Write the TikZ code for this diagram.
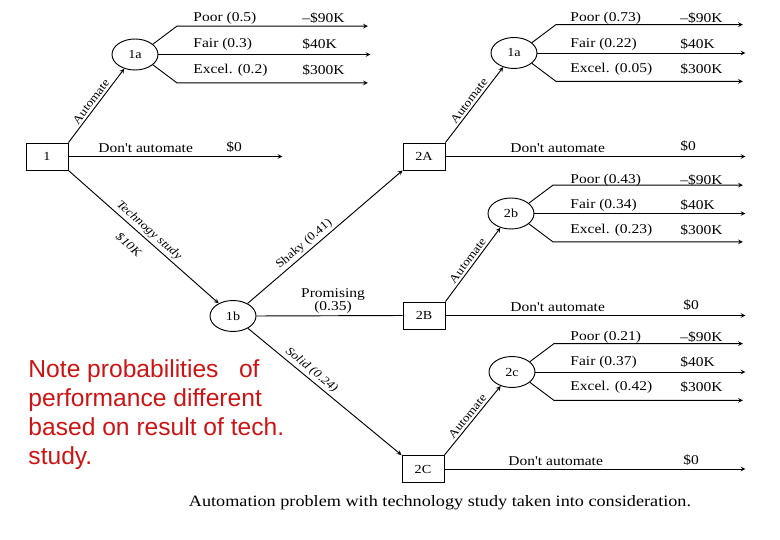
\documentclass[tikz,border=0pt]{standalone}
\usepackage{fontspec}
\setmainfont{Liberation Serif}
\newfontfamily\scanfont[FakeStretch=1.15]{Liberation Serif}
\newfontfamily\notefont{Liberation Sans}
\usetikzlibrary{shapes.geometric}
\definecolor{notered}{RGB}{205,20,20}

\begin{document}
\begin{tikzpicture}[x=0.03cm, y=-0.03cm, >=stealth, line width=0.8pt,
  decision/.style={draw, rectangle, minimum width=1.26cm, minimum height=0.81cm, inner sep=0pt, font=\scanfont\fontsize{10.5}{12}\selectfont},
  chance/.style={draw, ellipse, minimum width=1.38cm, minimum height=0.93cm, inner sep=0pt, font=\scanfont\fontsize{10.5}{12}\selectfont},
  lbl/.style={anchor=west, inner sep=0pt, font=\scanfont\fontsize{11.5}{13}\selectfont},
  edgelbl/.style={sloped, inner sep=2pt, font=\scanfont\fontsize{10}{11}\selectfont},
  studylbl/.style={sloped, inner sep=2pt, font=\scanfont\itshape\fontsize{10}{11}\selectfont}]
\useasboundingbox (0,0) rectangle (780,540);

% Decision boxes and chance circles
\node[decision] (d1) at (47,156.5) {1};
\node[chance] (c1a) at (135,54.5) {1a};
\node[chance] (c1b) at (233,316) {1b};
\node[decision] (d2A) at (424,156.5) {2A};
\node[decision] (d2B) at (424,315.5) {2B};
\node[decision] (d2C) at (423,469) {2C};
\node[chance] (c2a) at (514,53) {1a};
\node[chance] (c2b) at (511,213.5) {2b};
\node[chance] (c2c) at (512,372) {2c};

% Decision 1
\draw[->] (d1.north east) -- (c1a) node[midway, above, edgelbl] {Automate};
\draw[->] (d1.east) -- ++(214,0);
\draw[->] (d1.south east) -- (c1b)
  node[pos=0.5, above, studylbl] {Technogy study}
  node[pos=0.47, below=7pt, studylbl] {\$10K};
\node[lbl] at (98,148) {Don't automate};
\node[lbl] at (226,147) {\$0};

% Chance 1a (no study)
\draw[->] (c1a.30) -- ++(24,-18) -- ++(191,0);
\draw[->] (c1a.east) -- ++(212,0);
\draw[->] (c1a.-30) -- ++(24,18) -- ++(191,0);
\node[lbl] at (193,18) {Poor (0.5)};
\node[lbl] at (302,18) {–\$90K};
\node[lbl] at (193,44) {Fair (0.3)};
\node[lbl] at (302,44) {\$40K};
\node[lbl] at (193,70) {Excel. (0.2)};
\node[lbl] at (302,70) {\$300K};

% Study outcomes
\draw[->] (c1b) -- (d2A.south west) node[pos=0.4, above, edgelbl] {Shaky (0.41)};
\draw (c1b.east) -- (d2B.west);
\node[align=center, inner sep=0pt, font=\scanfont\fontsize{11.5}{11}\selectfont] (promising) at (333,301) {Promising\\(0.35)};
\draw[->] (c1b) -- (d2C.north west) node[pos=0.38, above, studylbl] {Solid (0.24)};

% Decision 2A
\draw[->] (d2A.north east) -- (c2a) node[midway, above, edgelbl] {Automate};
\draw[->] (d2A.east) -- ++(300,0);
\node[lbl] at (510,148) {Don't automate};
\node[lbl] at (680,146) {\$0};
\draw[->] (c2a.30) -- ++(24,-18) -- ++(187,0);
\draw[->] (c2a.east) -- ++(208,0);
\draw[->] (c2a.-30) -- ++(24,18) -- ++(187,0);
\node[lbl] at (570,18) {Poor (0.73)};
\node[lbl] at (680,18) {–\$90K};
\node[lbl] at (570,44) {Fair (0.22)};
\node[lbl] at (680,44) {\$40K};
\node[lbl] at (570,69) {Excel. (0.05)};
\node[lbl] at (680,69) {\$300K};

% Decision 2B
\draw[->] (d2B.north east) -- (c2b) node[midway, above, edgelbl] {Automate};
\draw[->] (d2B.east) -- ++(300,0);
\node[lbl] at (510,307) {Don't automate};
\node[lbl] at (683,305) {\$0};
\draw[->] (c2b.30) -- ++(24,-18) -- ++(190,0);
\draw[->] (c2b.east) -- ++(211,0);
\draw[->] (c2b.-30) -- ++(24,18) -- ++(190,0);
\node[lbl] at (570,180) {Poor (0.43)};
\node[lbl] at (680,180) {–\$90K};
\node[lbl] at (570,205) {Fair (0.34)};
\node[lbl] at (680,205) {\$40K};
\node[lbl] at (570,230) {Excel. (0.23)};
\node[lbl] at (680,230) {\$300K};

% Decision 2C
\draw[->] (d2C.north east) -- (c2c) node[midway, above, edgelbl] {Automate};
\draw[->] (d2C.east) -- ++(301,0);
\node[lbl] at (508,461) {Don't automate};
\node[lbl] at (683,460) {\$0};
\draw[->] (c2c.30) -- ++(24,-18) -- ++(189,0);
\draw[->] (c2c.east) -- ++(210,0);
\draw[->] (c2c.-30) -- ++(24,18) -- ++(189,0);
\node[lbl] at (570,337) {Poor (0.21)};
\node[lbl] at (680,337) {–\$90K};
\node[lbl] at (570,362) {Fair (0.37)};
\node[lbl] at (680,362) {\$40K};
\node[lbl] at (570,387) {Excel. (0.42)};
\node[lbl] at (680,387) {\$300K};

% Caption and note
\node[font=\scanfont\fontsize{13.5}{15}\selectfont] (caption) at (440,503) {Automation problem with technology study taken into consideration.};
\node[anchor=north west, align=left, inner sep=0pt, text=notered, font=\notefont\fontsize{21}{24.7}\selectfont] (note) at (28,359)
  {Note probabilities\ \ \ of\\performance different\\based on result of tech.\\study.};
\end{tikzpicture}
\end{document}
